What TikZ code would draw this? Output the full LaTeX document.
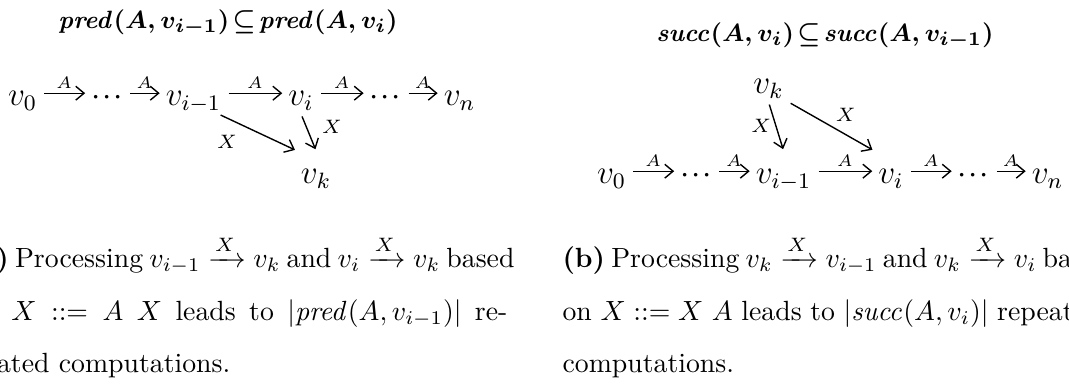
\documentclass[tikz,border=0pt]{standalone}
\usepackage{amsmath,amssymb}
\usetikzlibrary{arrows.meta,positioning}
\newcommand{\chaindots}{\mathinner{\cdotp\mkern-2mu\cdotp\mkern-2mu\cdotp}}

\begin{document}
\begin{tikzpicture}[
  x=0.36pt, y=0.36pt,
  vtx/.style={anchor=base, inner sep=1.5pt, font=\large, text height=10pt, text depth=1.5pt},
  arr/.style={-{Straight Barb[length=3pt,width=5pt]}, line width=0.5pt,
              shorten <=1pt, shorten >=0.5pt},
  albl/.style={midway, above, inner sep=1.5pt, font=\fontsize{6}{7}\selectfont},
  xlbl/.style={font=\scriptsize, inner sep=1.5pt},
  ttl/.style={anchor=base, font=\boldmath\fontsize{9.5}{11}\selectfont},
  capline/.style={anchor=base west, inner sep=0pt}
]

\useasboundingbox (0,0) rectangle (1069,390);
\clip (0,0) rectangle (1069,390);

%% (a) predecessors
\node[ttl] (ttla) at (228,362) {$\mathit{pred}(A,v_{i-1}) \!\subseteq\! \mathit{pred}(A,v_i)$};

\node[vtx] (v0a)   at (22.5,285)  {$v_0$};
\node[vtx] (d1a)   at (107,285)   {$\chaindots$};
\node[vtx] (vim1a) at (193.5,285) {$v_{i-1}$};
\node[vtx] (via)   at (301,285)   {$v_i$};
\node[vtx] (d2a)   at (385.5,285) {$\chaindots$};
\node[vtx] (vna)   at (459.5,285) {$v_n$};
\node[vtx] (vka)   at (316,207)   {$v_k$};

\draw[arr] (v0a) -- node[albl]{$A$} (d1a);
\draw[arr] (d1a) -- node[albl]{$A$} (vim1a);
\draw[arr] (vim1a) -- node[albl]{$A$} (via);
\draw[arr] (via) -- node[albl]{$A$} (d2a);
\draw[arr] (d2a) -- node[albl]{$A$} (vna);
\draw[arr] (vim1a.-40) -- node[xlbl, pos=0.3, below left, yshift=-2pt]{$X$} (vka.north west);
\draw[arr] (via.south) -- node[xlbl, pos=0.35, right, xshift=4pt]{$X$} (vka.north);

%% (b) successors
\node[ttl] (ttlb) at (825,349) {$\mathit{succ}(A,v_i) \!\subseteq\! \mathit{succ}(A,v_{i-1})$};

\node[vtx] (v0b)   at (611.5,207)  {$v_0$};
\node[vtx] (d1b)   at (696,207)    {$\chaindots$};
\node[vtx] (vim1b) at (783.5,207)  {$v_{i-1}$};
\node[vtx] (vib)   at (891,207)    {$v_i$};
\node[vtx] (d2b)   at (973.5,207)  {$\chaindots$};
\node[vtx] (vnb)   at (1047.5,207) {$v_n$};
\node[vtx] (vkb)   at (768.5,297)  {$v_k$};

\draw[arr] (v0b) -- node[albl]{$A$} (d1b);
\draw[arr] (d1b) -- node[albl]{$A$} (vim1b);
\draw[arr] (vim1b) -- node[albl]{$A$} (vib);
\draw[arr] (vib) -- node[albl]{$A$} (d2b);
\draw[arr] (d2b) -- node[albl]{$A$} (vnb);
\draw[arr] (vkb.south) -- node[xlbl, midway, left]{$X$} (vim1b.north);
\draw[arr] (vkb.south east) -- node[xlbl, midway, above right]{$X$} (vib.north west);

%% captions
\node[capline] (capa1) at (-32,123) {\makebox[194pt][s]{\textbf{(a)} Processing $v_{i-1}\xrightarrow{X}v_k$ and $v_i\xrightarrow{X}v_k$ based}};
\node[capline] (capa2) at (-32,70) {\makebox[194pt][s]{on $X ::= A$ $X$ leads to $|\mathit{pred}(A,v_{i-1})|$ re-}};
\node[capline] (capa3) at (-32,18) {peated computations.};

\node[capline] (capb1) at (562,123) {\makebox[194pt][s]{\textbf{(b)} Processing $v_k\xrightarrow{X}v_{i-1}$ and $v_k\xrightarrow{X}v_i$ based}};
\node[capline] (capb2) at (562,70) {\makebox[194pt][s]{on $X ::= X$ $A$ leads to $|\mathit{succ}(A,v_i)|$ repeated}};
\node[capline] (capb3) at (562,18) {computations.};

\end{tikzpicture}
\end{document}
